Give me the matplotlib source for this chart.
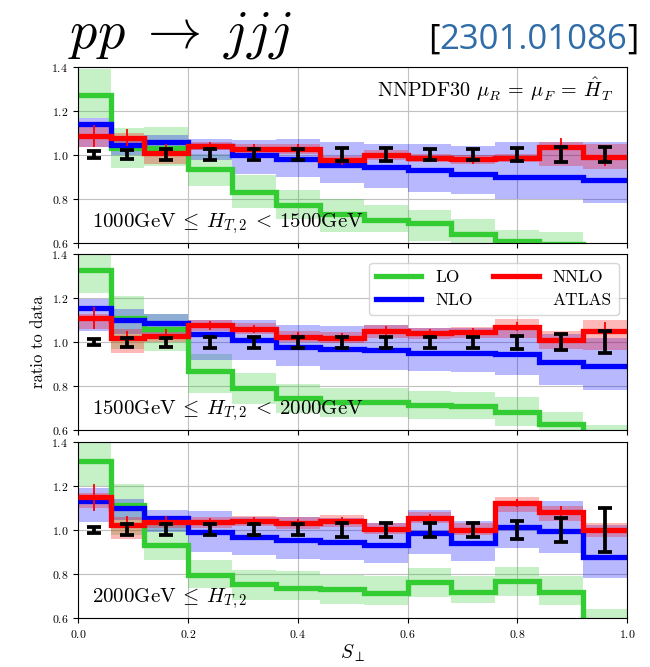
import numpy as np
import matplotlib
matplotlib.use("Agg")
from matplotlib import pyplot as plt
from matplotlib.offsetbox import TextArea, HPacker, AnnotationBbox

plt.rcParams['font.family'] = 'cmr10'
plt.rcParams['mathtext.fontset'] = 'cm'
plt.rcParams['axes.formatter.use_mathtext'] = True

# S_perp bin edges
edges = [0, 0.06, 0.12, 0.2, 0.28, 0.36, 0.44, 0.52, 0.6, 0.68, 0.76, 0.84, 0.92, 1.0]

# panel 1: 1000 <= HT2 < 1500 GeV
lo1 = [1.27, 1.03, 1.03, 0.935, 0.83, 0.77, 0.73, 0.705, 0.69, 0.64, 0.61, 0.595, 0.55]
lo1_lo = [1.165, 0.94, 0.95, 0.86, 0.76, 0.71, 0.65, 0.65, 0.61, 0.57, 0.55, 0.55, 0.5]
lo1_hi = [1.39, 1.12, 1.125, 1.005, 0.91, 0.84, 0.80, 0.77, 0.75, 0.71, 0.66, 0.65, 0.58]
nlo1 = [1.14, 1.045, 1.06, 1.04, 0.997, 0.98, 0.955, 0.944, 0.93, 0.913, 0.898, 0.898, 0.887]
nlo1_lo = [1.035, 1.0, 1.02, 0.975, 0.913, 0.90, 0.87, 0.85, 0.83, 0.82, 0.80, 0.80, 0.78]
nlo1_hi = [1.165, 1.08, 1.09, 1.07, 1.066, 1.07, 1.06, 1.05, 1.05, 1.04, 1.06, 1.06, 1.06]
nnlo1 = [1.085, 1.078, 1.01, 1.04, 1.027, 1.027, 0.975, 0.997, 0.985, 0.98, 0.985, 1.035, 0.99]
nnlo1_lo = [1.035, 1.05, 0.96, 1.02, 1.005, 1.005, 0.955, 0.975, 0.965, 0.96, 0.965, 0.95, 0.935]
nnlo1_hi = [1.13, 1.10, 1.03, 1.06, 1.05, 1.05, 0.995, 1.02, 1.005, 1.0, 1.005, 1.06, 1.05]
nnlo1_err = [0.05, 0.04, 0.04, 0.02, 0.02, 0.02, 0.02, 0.02, 0.02, 0.02, 0.02, 0.04, 0.04]
data1_err = [0.015, 0.02, 0.025, 0.025, 0.025, 0.025, 0.03, 0.03, 0.025, 0.025, 0.03, 0.035, 0.035]

# panel 2: 1500 <= HT2 < 2000 GeV
lo2 = [1.33, 1.11, 1.06, 0.868, 0.79, 0.746, 0.73, 0.726, 0.715, 0.708, 0.685, 0.63, 0.55]
lo2_lo = [1.225, 0.967, 0.96, 0.77, 0.72, 0.68, 0.66, 0.66, 0.65, 0.65, 0.62, 0.57, 0.5]
lo2_hi = [1.44, 1.21, 1.126, 0.944, 0.86, 0.81, 0.79, 0.79, 0.78, 0.775, 0.75, 0.685, 0.625]
nlo2 = [1.157, 1.10, 1.088, 1.035, 1.012, 0.98, 0.968, 0.966, 0.95, 0.95, 0.944, 0.909, 0.89]
nlo2_lo = [1.05, 1.035, 1.02, 0.92, 0.92, 0.89, 0.875, 0.875, 0.868, 0.865, 0.85, 0.807, 0.784]
nlo2_hi = [1.195, 1.15, 1.126, 1.10, 1.10, 1.08, 1.075, 1.08, 1.065, 1.065, 1.073, 1.035, 1.02]
nnlo2 = [1.11, 1.02, 1.03, 1.076, 1.06, 1.024, 1.02, 1.053, 1.04, 1.046, 1.07, 1.012, 1.05]
nnlo2_lo = [1.06, 0.95, 1.0, 1.05, 1.035, 1.0, 0.995, 1.02, 1.015, 1.02, 1.02, 0.97, 0.966]
nnlo2_hi = [1.13, 1.06, 1.06, 1.10, 1.085, 1.05, 1.045, 1.08, 1.065, 1.07, 1.105, 1.05, 1.10]
nnlo2_err = [0.05, 0.03, 0.03, 0.02, 0.02, 0.02, 0.02, 0.02, 0.02, 0.02, 0.02, 0.03, 0.04]
data2_err = [0.015, 0.02, 0.02, 0.025, 0.025, 0.025, 0.025, 0.025, 0.025, 0.025, 0.03, 0.035, 0.05]

# panel 3: HT2 >= 2000 GeV
lo3 = [1.312, 1.111, 0.93, 0.797, 0.753, 0.737, 0.73, 0.715, 0.764, 0.72, 0.77, 0.72, 0.55]
lo3_lo = [1.198, 0.977, 0.863, 0.734, 0.68, 0.68, 0.665, 0.66, 0.696, 0.67, 0.70, 0.66, 0.5]
lo3_hi = [1.44, 1.21, 1.04, 0.863, 0.817, 0.815, 0.795, 0.79, 0.825, 0.79, 0.83, 0.79, 0.64]
nlo3 = [1.132, 1.10, 1.053, 0.992, 0.97, 0.954, 0.947, 0.93, 0.985, 0.94, 1.015, 0.995, 0.878]
nlo3_lo = [1.038, 1.045, 0.99, 0.90, 0.885, 0.87, 0.865, 0.85, 0.89, 0.86, 0.916, 0.893, 0.78]
nlo3_hi = [1.19, 1.14, 1.09, 1.084, 1.06, 1.06, 1.055, 1.03, 1.09, 1.04, 1.12, 1.13, 1.023]
nnlo3 = [1.148, 1.023, 1.035, 1.035, 1.041, 1.03, 1.04, 1.003, 1.053, 1.0, 1.122, 1.08, 1.0]
nnlo3_lo = [1.10, 0.96, 1.01, 1.01, 1.02, 1.005, 1.015, 0.98, 1.03, 0.975, 1.08, 1.04, 0.97]
nnlo3_hi = [1.17, 1.06, 1.06, 1.06, 1.065, 1.06, 1.07, 1.03, 1.08, 1.03, 1.15, 1.11, 1.03]
nnlo3_err = [0.06, 0.04, 0.03, 0.02, 0.02, 0.02, 0.02, 0.02, 0.02, 0.02, 0.02, 0.03, 0.03]
data3_err = [0.015, 0.025, 0.025, 0.025, 0.025, 0.025, 0.03, 0.03, 0.03, 0.03, 0.04, 0.055, 0.1]

labels = [r"$1000\mathrm{GeV}\:\leq\:H_{T,2}\:<\:1500\mathrm{GeV}$",
          r"$1500\mathrm{GeV}\:\leq\:H_{T,2}\:<\:2000\mathrm{GeV}$",
          r"$2000\mathrm{GeV}\:\leq\:H_{T,2}$"]

panels = [
    (lo1, lo1_lo, lo1_hi, nlo1, nlo1_lo, nlo1_hi, nnlo1, nnlo1_lo, nnlo1_hi, nnlo1_err, data1_err),
    (lo2, lo2_lo, lo2_hi, nlo2, nlo2_lo, nlo2_hi, nnlo2, nnlo2_lo, nnlo2_hi, nnlo2_err, data2_err),
    (lo3, lo3_lo, lo3_hi, nlo3, nlo3_lo, nlo3_hi, nnlo3, nnlo3_lo, nnlo3_hi, nnlo3_err, data3_err),
]

GREEN = '#33cc33'
BLUE = '#0000ff'
RED = '#ff0000'

fig = plt.figure(figsize=(6.5, 6.67), dpi=100)
bottoms = [0.636, 0.355, 0.0735]
centers = 0.5 * (np.array(edges[:-1]) + np.array(edges[1:]))

axes = []
for i, p in enumerate(panels):
    lo, lo_l, lo_h, nlo, nlo_l, nlo_h, nnlo, nnlo_l, nnlo_h, nnlo_e, dat_e = p
    ax = fig.add_axes([0.12, bottoms[i], 0.845, 0.264])
    axes.append(ax)
    ax.grid(True, color='#c0c0c0', lw=0.8, zorder=0)
    ax.set_axisbelow(True)

    # bands
    ax.stairs(lo_h, edges, baseline=lo_l, fill=True, color=GREEN, alpha=0.28, lw=0, zorder=1)
    ax.stairs(nlo_h, edges, baseline=nlo_l, fill=True, color=BLUE, alpha=0.28, lw=0, zorder=1)
    ax.stairs(nnlo_h, edges, baseline=nnlo_l, fill=True, color=RED, alpha=0.28, lw=0, zorder=1)

    # central lines
    ax.stairs(lo, edges, baseline=None, color=GREEN, lw=3.8, label='LO', zorder=2)
    ax.stairs(nlo, edges, baseline=None, color=BLUE, lw=3.8, label='NLO', zorder=3)
    ax.stairs(nnlo, edges, baseline=None, color=RED, lw=3.8, label='NNLO', zorder=4)
    ax.errorbar(centers, nnlo, yerr=nnlo_e, fmt='none', ecolor=RED, elinewidth=1.3, zorder=5)

    # data
    ax.errorbar(centers, np.ones(len(centers)), yerr=dat_e, fmt='none', ecolor='black',
                elinewidth=2.7, capsize=5, capthick=2.7, zorder=6)
    ax.plot([], [], ' ', label='ATLAS')

    ax.set_xlim(0, 1)
    ax.set_ylim(0.6, 1.4)
    ax.set_yticks([0.6, 0.8, 1.0, 1.2, 1.4])
    ax.set_xticks([0.0, 0.2, 0.4, 0.6, 0.8, 1.0])
    ax.tick_params(labelsize=8.5)
    if i < 2:
        ax.set_xticklabels([])
    ax.text(0.025, 0.04, labels[i], transform=ax.transAxes, fontsize=15, va='bottom', ha='left')

axes[0].text(0.975, 0.95, r"NNPDF30 $\mu_R\:=\:\mu_F\:=\:\hat{H}_T$", transform=axes[0].transAxes,
             fontsize=14.5, ha='right', va='top')

h, l = axes[1].get_legend_handles_labels()
order = [l.index(k) for k in ['LO', 'NLO', 'NNLO', 'ATLAS']]
axes[1].legend([h[k] for k in order], [l[k] for k in order], ncol=2, loc='upper right',
               fontsize=12.5, handlelength=2.6, columnspacing=1.2, labelspacing=0.45,
               framealpha=0.8)

axes[1].set_ylabel('ratio to data', fontsize=12)
axes[2].set_xlabel(r'$S_\perp$', fontsize=14, labelpad=2)

fig.text(0.105, 0.947, r'$pp\;\to\;jjj$', fontsize=39, va='center', ha='left')

ref = HPacker(children=[TextArea('[', textprops=dict(color='black', fontsize=25, family='Open Sans')),
                        TextArea('2301.01086', textprops=dict(color='#2f6ca8', fontsize=25, family='Open Sans')),
                        TextArea(']', textprops=dict(color='black', fontsize=25, family='Open Sans'))],
              sep=0, align='baseline', pad=0)
ab = AnnotationBbox(ref, (0.982, 0.94), xycoords='figure fraction', box_alignment=(1, 0.5),
                    frameon=False)
fig.add_artist(ab)

fig.savefig('out.png', dpi=100)
